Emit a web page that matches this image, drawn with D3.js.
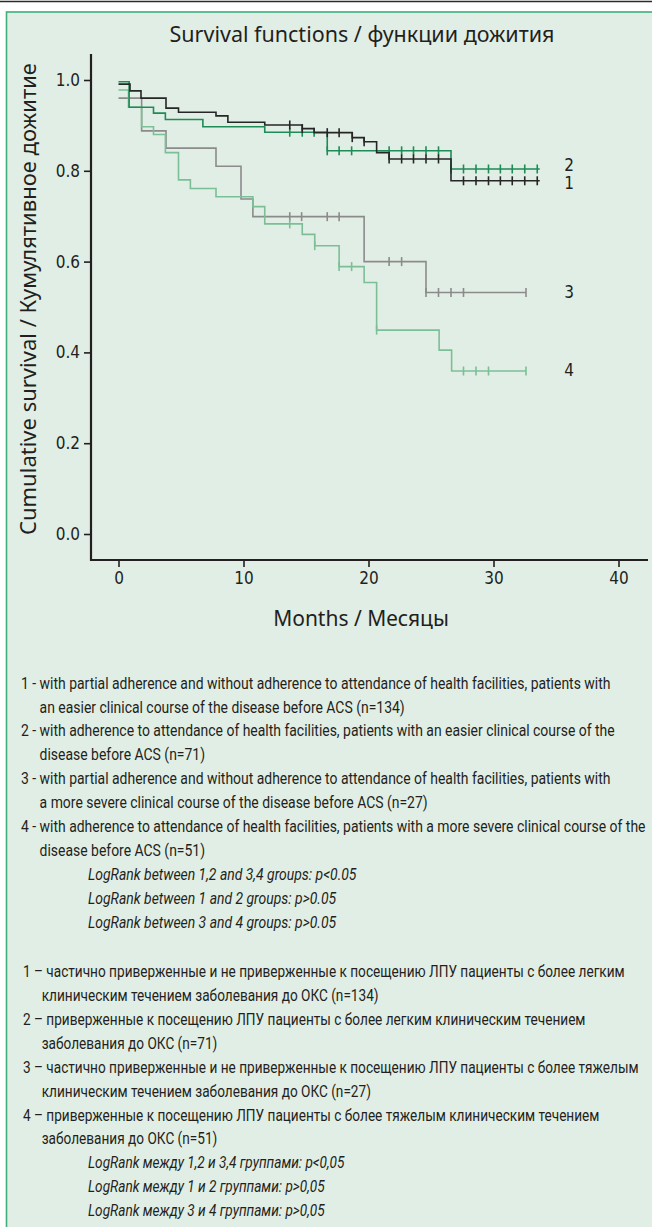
<!DOCTYPE html>
<html>
<head>
<meta charset="utf-8">
<script src="https://cdn.jsdelivr.net/npm/d3@7"></script>
<style>
  body { margin: 0; background: #fff; }
  svg { display: block; }
  .narrow { font-family: "DejaVu Sans Condensed", "Roboto", sans-serif; fill: #231f20; }
  .wide { font-family: "Noto Sans", "Open Sans", sans-serif; fill: #231f20; }
  .legend { font-family: "Roboto", "Noto Sans", sans-serif; fill: #231f20; }
</style>
</head>
<body>
<div id="chart"></div>
<script>
// curve 1 : black
const times1 = [0, 0.92, 1.8, 3.8, 4.8, 7.8, 8.75, 11.7, 14.7, 15.65, 18.7, 19.65, 20.65, 21.65, 26.6];
const surv1  = [0.991, 0.976, 0.960, 0.938, 0.929, 0.921, 0.907, 0.901, 0.893, 0.884, 0.873, 0.864, 0.840, 0.826, 0.778];
const cens1  = [13.7, 14.7, 16.7, 17.65, 18.7, 19.65, 21.65, 22.65, 23.6, 24.6, 25.6, 27.6, 28.6, 29.6, 30.55, 31.5, 32.5, 33.5];
const end1 = 33.7;

// curve 2 : dark green
const times2 = [0, 0.85, 2.8, 3.75, 6.75, 11.7, 16.7, 26.6];
const surv2  = [0.996, 0.940, 0.927, 0.913, 0.897, 0.885, 0.844, 0.804];
const cens2  = [13.7, 14.7, 15.65, 16.7, 17.65, 18.65, 21.65, 22.65, 23.6, 24.6, 25.6, 26.6, 27.6, 28.6, 29.6, 30.55, 31.5, 32.5, 33.5];
const end2 = 33.7;

// curve 3 : grey
const times3 = [0, 1.85, 3.8, 7.8, 9.8, 10.75, 19.65, 24.6];
const surv3  = [0.960, 0.888, 0.850, 0.810, 0.738, 0.699, 0.600, 0.532];
const cens3  = [13.7, 14.65, 16.7, 17.65, 21.65, 22.65, 24.6, 25.6, 26.6, 27.6, 32.6];
const end3 = 32.6;

// curve 4 : light green
const times4 = [0, 0.8, 1.85, 2.8, 3.75, 4.8, 5.75, 7.8, 10.75, 11.7, 14.7, 15.7, 17.65, 19.65, 20.65, 25.65, 26.65];
const surv4  = [0.978, 0.940, 0.897, 0.880, 0.840, 0.780, 0.761, 0.743, 0.721, 0.683, 0.660, 0.635, 0.589, 0.554, 0.449, 0.405, 0.359];
const cens4  = [13.7, 15.7, 17.65, 18.65, 20.65, 27.6, 28.6, 29.6, 32.6];
const end4 = 32.6;

const xTicks = [0, 10, 20, 30, 40];
const yTicks = [0, 0.2, 0.4, 0.6, 0.8, 1.0];

const legendEn = [
  "1 - with partial adherence and without adherence to attendance of health facilities, patients with",
  "an easier clinical course of the disease before ACS (n=134)",
  "2 - with adherence to attendance of health facilities, patients with an easier clinical course of the",
  "disease before ACS (n=71)",
  "3 - with partial adherence and without adherence to attendance of health facilities, patients with",
  "a more severe clinical course of the disease before ACS (n=27)",
  "4 - with adherence to attendance of health facilities, patients with a more severe clinical course of the",
  "disease before ACS (n=51)"
];
const logRankEn = [
  "LogRank between 1,2 and 3,4 groups: p<0.05",
  "LogRank between 1 and 2 groups: p>0.05",
  "LogRank between 3 and 4 groups: p>0.05"
];
const legendRu = [
  "1 – частично приверженные и не приверженные к посещению ЛПУ пациенты с более легким",
  "клиническим течением заболевания до ОКС (n=134)",
  "2 – приверженные к посещению ЛПУ пациенты с более легким клиническим течением",
  "заболевания до ОКС (n=71)",
  "3 – частично приверженные и не приверженные к посещению ЛПУ пациенты с более тяжелым",
  "клиническим течением заболевания до ОКС (n=27)",
  "4 – приверженные к посещению ЛПУ пациенты с более тяжелым клиническим течением",
  "заболевания до ОКС (n=51)"
];
const logRankRu = [
  "LogRank между 1,2 и 3,4 группами: p<0,05",
  "LogRank между 1 и 2 группами: p>0,05",
  "LogRank между 3 и 4 группами: p>0,05"
];

const width = 652, height = 1227;

const svg = d3.select("#chart").append("svg")
    .attr("width", width)
    .attr("height", height);

// cadre
svg.append("line")
    .attr("x1", 0).attr("x2", width).attr("y1", 1.5).attr("y2", 1.5)
    .style("stroke", "#2a2a2a").style("stroke-width", 1.5);
svg.append("rect")
    .attr("x", 6.5).attr("y", 12)
    .attr("width", width + 10).attr("height", height)
    .style("fill", "#e1eee5")
    .style("stroke", "#3fae7c")
    .style("stroke-width", 1.6);

const xScale = d3.scaleLinear().domain([0, 40]).range([118.5, 618.5]);
const yScale = d3.scaleLinear().domain([0, 1]).range([534, 80]);

// titre
svg.append("text")
    .attr("class", "wide")
    .attr("x", 362).attr("y", 33)
    .attr("text-anchor", "middle")
    .attr("dominant-baseline", "central")
    .style("font-size", "21.5px")
    .text("Survival functions / функции дожития");

// axes
const yAxis = svg.append("g")
    .attr("transform", "translate(91,0)")
    .call(d3.axisLeft(yScale).tickValues(yTicks).tickFormat(d3.format(".1f")).tickSize(7).tickPadding(4));
const xAxis = svg.append("g")
    .attr("transform", "translate(0,560)")
    .call(d3.axisBottom(xScale).tickValues(xTicks).tickSize(7).tickPadding(5));

[yAxis, xAxis].forEach(ax => {
    ax.select(".domain").remove();
    ax.selectAll("line").style("stroke", "#231f20").style("stroke-width", 1.6);
    ax.selectAll("text")
        .attr("class", "narrow")
        .style("font-size", "17px")
        .style("fill", "#231f20");
});

// trait à gauche
svg.append("line")
    .attr("x1", 91).attr("x2", 91).attr("y1", 54).attr("y2", 560.8)
    .style("stroke", "#231f20").style("stroke-width", 2.2);
// trait en bas
svg.append("line")
    .attr("x1", 90).attr("x2", 648).attr("y1", 560).attr("y2", 560)
    .style("stroke", "#231f20").style("stroke-width", 2.2);

svg.append("text")
    .attr("class", "wide")
    .attr("x", 361).attr("y", 618)
    .attr("text-anchor", "middle")
    .attr("dominant-baseline", "central")
    .style("font-size", "21px")
    .text("Months / Месяцы");

svg.append("text")
    .attr("class", "wide")
    .attr("transform", "translate(27,299) rotate(-90)")
    .attr("text-anchor", "middle")
    .attr("dominant-baseline", "central")
    .style("font-size", "22px")
    .text("Cumulative survival / Кумулятивное дожитие");

// courbes de survie
const curves = [
    { id: "3", times: times3, surv: surv3, cens: cens3, end: end3, color: "#8b8b8b" },
    { id: "4", times: times4, surv: surv4, cens: cens4, end: end4, color: "#7cbf96" },
    { id: "2", times: times2, surv: surv2, cens: cens2, end: end2, color: "#1f8b57" },
    { id: "1", times: times1, surv: surv1, cens: cens1, end: end1, color: "#262626" }
];

const line = d3.line()
    .x(d => xScale(d[0]))
    .y(d => yScale(d[1]))
    .curve(d3.curveStepAfter);

function survAt(c, t) {
    let s = c.surv[0];
    c.times.forEach((ti, i) => { if (ti <= t) s = c.surv[i]; });
    return s;
}

curves.forEach(c => {
    const pts = c.times.map((t, i) => [t, c.surv[i]]);
    pts.push([c.end, c.surv[c.surv.length - 1]]);

    svg.append("path")
        .datum(pts)
        .attr("d", line)
        .style("fill", "none")
        .style("stroke", c.color)
        .style("stroke-width", 1.6);

    svg.selectAll(".cens-" + c.id)
        .data(c.cens)
        .enter()
        .append("line")
        .attr("class", "cens-" + c.id)
        .attr("x1", d => xScale(d))
        .attr("x2", d => xScale(d))
        .attr("y1", d => yScale(survAt(c, d)) - 4.5)
        .attr("y2", d => yScale(survAt(c, d)) + 4.5)
        .style("stroke", c.color)
        .style("stroke-width", 1.6);
});

// numéros des courbes
const labelY = { "1": 0.773, "2": 0.813, "3": 0.533, "4": 0.361 };
curves.forEach(c => {
    svg.append("text")
        .attr("class", "narrow")
        .attr("x", 569)
        .attr("y", yScale(labelY[c.id]))
        .attr("text-anchor", "middle")
        .attr("dominant-baseline", "central")
        .style("font-size", "17px")
        .text(c.id);
});

// légende : police condensée simulée par une mise à l'échelle horizontale
function legendBlock(lines, lr, y0, x0, indent, firstWidth) {
    const g = svg.append("g").attr("class", "legend").style("font-size", "16.5px");
    const main = g.selectAll(".leg")
        .data(lines)
        .enter()
        .append("text")
        .attr("y", (d, i) => y0 + i * 23.9)
        .attr("dominant-baseline", "central")
        .text(d => d);
    const italic = g.selectAll(".lr")
        .data(lr)
        .enter()
        .append("text")
        .attr("y", (d, i) => y0 + (lines.length + i) * 23.9)
        .attr("dominant-baseline", "central")
        .style("font-style", "italic")
        .text(d => d);
    const k = firstWidth / main.node().getComputedTextLength();
    g.attr("transform", `scale(${k},1)`);
    main.attr("x", (d, i) => (i % 2 === 0 ? x0 : indent) / k);
    italic.attr("x", 88 / k);
}
legendBlock(legendEn, logRankEn, 683.3, 21, 39.6, 590);
legendBlock(legendRu, logRankRu, 971.7, 23, 41.7, 602);
</script>
</body>
</html>
